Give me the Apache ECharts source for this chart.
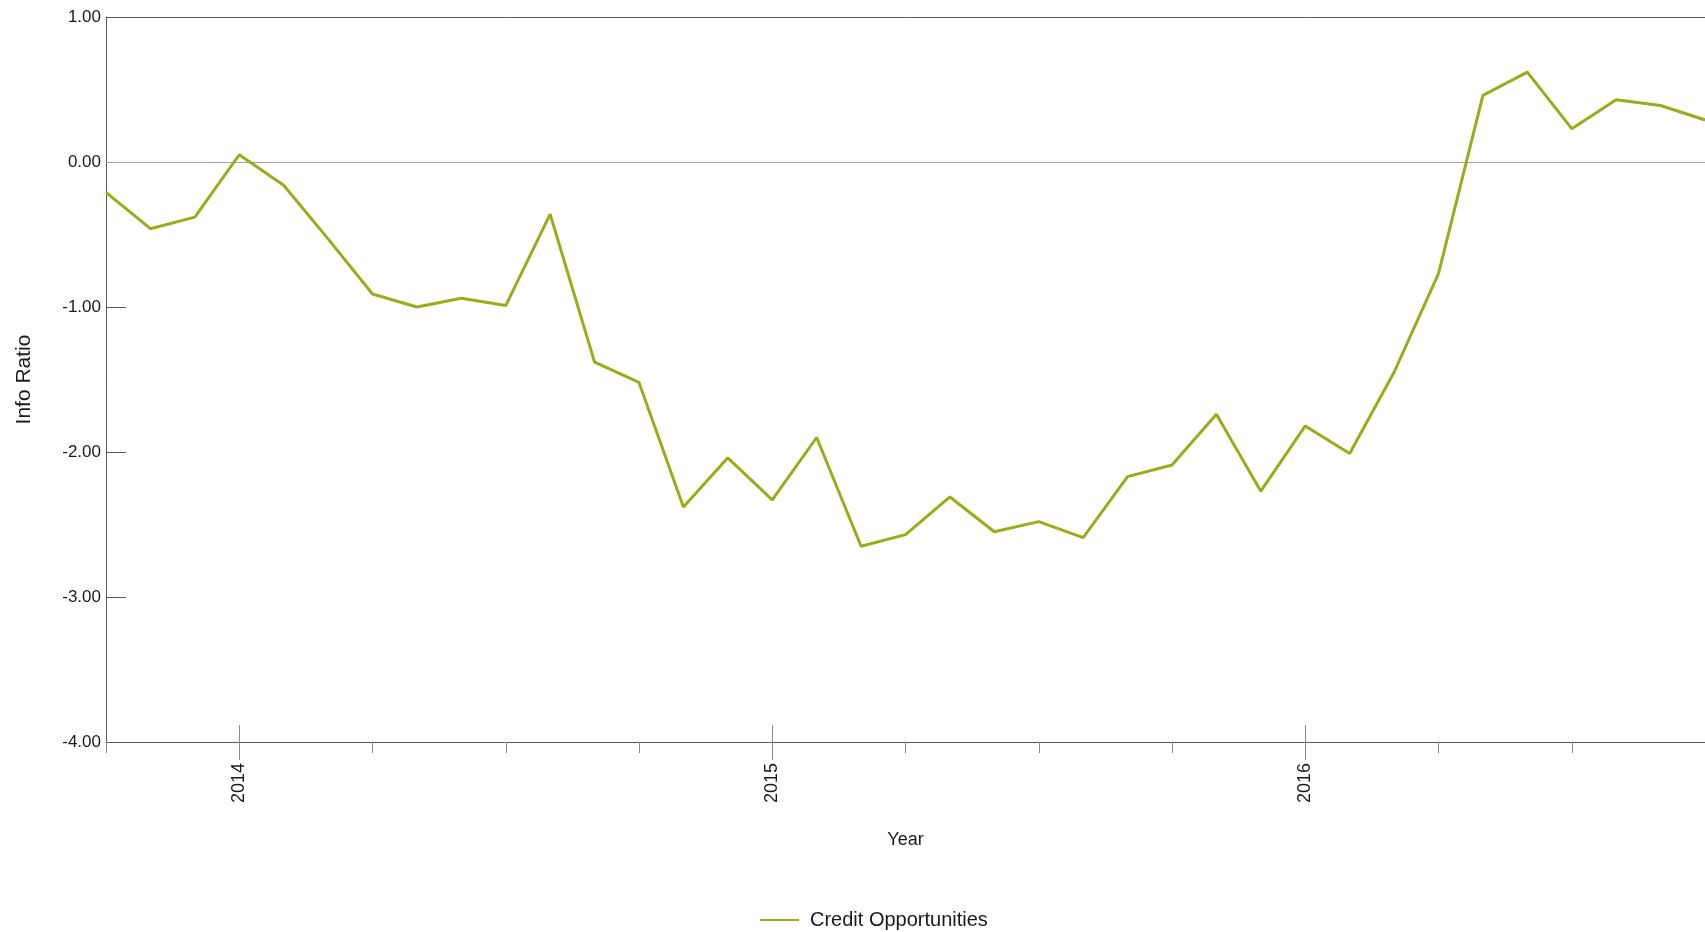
<!DOCTYPE html>
<html>
<head>
<meta charset="utf-8">
<script src="https://cdn.jsdelivr.net/npm/echarts@6/dist/echarts.min.js"></script>
<style>
html,body{margin:0;padding:0;background:#fff;}
#chart{width:1705px;height:932px;}
</style>
</head>
<body>
<div id="chart"></div>
<script>
const months = [
  '2013-10','2013-11','2013-12',
  '2014-01','2014-02','2014-03','2014-04','2014-05','2014-06','2014-07','2014-08','2014-09','2014-10','2014-11','2014-12',
  '2015-01','2015-02','2015-03','2015-04','2015-05','2015-06','2015-07','2015-08','2015-09','2015-10','2015-11','2015-12',
  '2016-01','2016-02','2016-03','2016-04','2016-05','2016-06','2016-07','2016-08','2016-09','2016-10'
];
const infoRatio = [
  -0.21,-0.46,-0.38,
  0.05,-0.16,-0.53,-0.91,-1.00,-0.94,-0.99,-0.36,-1.38,-1.52,-2.38,-2.04,
  -2.33,-1.90,-2.65,-2.57,-2.31,-2.55,-2.48,-2.59,-2.17,-2.09,-1.74,-2.27,
  -1.82,-2.01,-1.45,-0.77,0.46,0.62,0.23,0.43,0.39,0.29
];
const seriesName = 'Credit Opportunities';
const yTicks = { min: -4, max: 1, interval: 1 };

const FONT = '"Liberation Sans", Arial, sans-serif';
const TXT = '#1a1a1a';
const AX = '#5a5a5a';
const TK = '#8a8a8a';
const isJan = (v) => v.slice(5) === '01';
const isQuarter = (v) => ['01','04','07','10'].includes(v.slice(5));

const chart = echarts.init(document.getElementById('chart'));
const baseX = {
  type: 'category', data: months, boundaryGap: false, gridIndex: 0,
  axisLine: { show: false, onZero: false },
  axisLabel: { show: false },
  splitLine: { show: false }
};
chart.setOption({
  backgroundColor: '#fff',
  animation: false,
  textStyle: { fontFamily: FONT },
  grid: { left: 106, top: 17, right: 0, bottom: 190, outerBoundsMode: 'none' },
  legend: {
    data: [seriesName], left: 755, top: 905,
    icon: 'rect', itemWidth: 39, itemHeight: 2,
    itemStyle: { color: '#9bac1b' },
    textStyle: { fontSize: 20, color: TXT, fontFamily: FONT, padding: [0,0,0,6] }
  },
  xAxis: [
    Object.assign({}, baseX, {
      position: 'bottom',
      axisLine: { show: true, onZero: false, lineStyle: { color: AX, width: 1 } },
      axisTick: { show: true, length: 11, interval: (i, v) => isQuarter(v) && !isJan(v), lineStyle: { color: TK } },
      axisLabel: { show: true, interval: (i, v) => isJan(v), rotate: 90, margin: 21, fontSize: 18, color: TXT, fontFamily: FONT, formatter: (v) => v.slice(0, 4) },
      name: 'Year', nameLocation: 'middle', nameGap: 89,
      nameTextStyle: { fontSize: 18, color: TXT, fontFamily: FONT }
    }),
    Object.assign({}, baseX, {
      position: 'bottom',
      axisTick: { show: true, length: 18, interval: (i, v) => isJan(v), lineStyle: { color: TK } }
    }),
    Object.assign({}, baseX, {
      position: 'bottom',
      axisTick: { show: true, inside: true, length: 17, interval: (i, v) => isJan(v), lineStyle: { color: TK } }
    }),
    Object.assign({}, baseX, {
      position: 'top',
      axisLine: { show: true, onZero: false, lineStyle: { color: AX, width: 1 } },
      axisTick: { show: false }
    })
  ],
  yAxis: {
    type: 'value', min: yTicks.min, max: yTicks.max, interval: yTicks.interval,
    axisLine: { show: true, onZero: false, lineStyle: { color: AX, width: 1 } },
    axisTick: { show: true, inside: true, length: 20, lineStyle: { color: AX } },
    axisLabel: { margin: 5, fontSize: 17, color: TXT, fontFamily: FONT, formatter: (v) => v.toFixed(2) },
    splitLine: { show: false },
    name: 'Info Ratio', nameLocation: 'middle', nameGap: 71,
    nameTextStyle: { fontSize: 21, color: TXT, fontFamily: FONT }
  },
  series: [{
    name: seriesName, type: 'line', xAxisIndex: 0, yAxisIndex: 0,
    data: infoRatio, showSymbol: false, symbol: 'none',
    lineStyle: { color: '#9bac1b', width: 3 },
    itemStyle: { color: '#9bac1b' },
    z: 3,
    markLine: {
      silent: true, symbol: ['none', 'none'], z: 1,
      label: { show: false },
      lineStyle: { color: '#a0a0a0', width: 1, type: 'solid' },
      emphasis: { disabled: true },
      data: [{ yAxis: 0 }]
    }
  }]
});
</script>
</body>
</html>
